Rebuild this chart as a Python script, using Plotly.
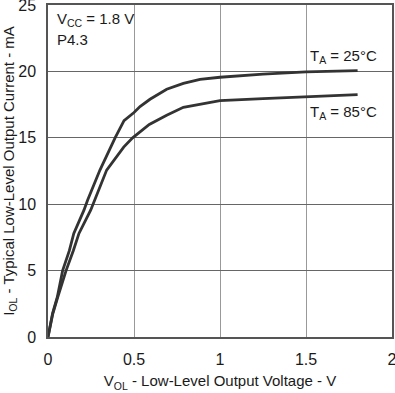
import plotly.graph_objects as go

v25 = [0, 0.027, 0.054, 0.085, 0.124, 0.15, 0.209, 0.23, 0.302, 0.39, 0.442, 0.5, 0.535, 0.593, 0.69, 0.787, 0.884, 1.0, 1.25, 1.5, 1.8]
i25 = [0, 1.8, 3.0, 5.0, 6.5, 7.8, 9.55, 10.3, 12.57, 15.0, 16.3, 16.9, 17.35, 17.9, 18.66, 19.1, 19.4, 19.56, 19.8, 19.96, 20.06]

v85 = [0, 0.027, 0.054, 0.105, 0.147, 0.18, 0.248, 0.27, 0.341, 0.44, 0.492, 0.589, 0.69, 0.787, 0.884, 1.0, 1.25, 1.5, 1.8]
i85 = [0, 1.7, 2.9, 5.0, 6.5, 7.8, 9.55, 10.3, 12.57, 14.3, 15.0, 16.0, 16.7, 17.3, 17.55, 17.8, 17.95, 18.1, 18.25]

x_ticks = [0, 0.5, 1, 1.5, 2]
x_tick_labels = ["0", "0.5", "1", "1.5", "2"]
y_ticks = [0, 5, 10, 15, 20, 25]
y_tick_labels = ["0", "5", "10", "15", "20", "25"]

line_color = "#333333"
family = "Liberation Sans, Arial, sans-serif"
font = dict(family=family, size=15, color="#1a1a1a")
tick_font = dict(family=family, size=16, color="#1a1a1a")

fig = go.Figure()
fig.add_trace(go.Scatter(x=v25, y=i25, mode="lines", line=dict(color=line_color, width=2.8), showlegend=False, cliponaxis=False))
fig.add_trace(go.Scatter(x=v85, y=i85, mode="lines", line=dict(color=line_color, width=2.8), showlegend=False, cliponaxis=False))

fig.add_annotation(x=0.04, y=23.9, xanchor="left", yanchor="middle", showarrow=False,
                   text="V<sub>CC</sub> = 1.8 V", font=font)
fig.add_annotation(x=0.04, y=22.4, xanchor="left", yanchor="middle", showarrow=False,
                   text="P4.3", font=font)
fig.add_annotation(x=1.72, y=21.1, xanchor="center", yanchor="middle", showarrow=False,
                   text="T<sub>A</sub> = 25°C", font=font)
fig.add_annotation(x=1.72, y=16.9, xanchor="center", yanchor="middle", showarrow=False,
                   text="T<sub>A</sub> = 85°C", font=font)

fig.update_layout(
    width=395, height=393,
    margin=dict(l=48, r=3, t=5, b=56, autoexpand=False),
    paper_bgcolor="white", plot_bgcolor="white",
    font=font,
)
fig.update_xaxes(range=[0, 2], tickvals=x_ticks, ticktext=x_tick_labels, tickfont=tick_font,
                 showgrid=True, gridcolor="#999999", gridwidth=1.2,
                 showline=True, mirror=True, linecolor="#555555", linewidth=1.5,
                 zeroline=False, ticks="", ticklabelstandoff=7, automargin=False,
                 ticklabeloverflow="allow",
                 title=dict(text="V<sub>OL</sub> - Low-Level Output Voltage - V", font=font, standoff=9))
fig.update_yaxes(range=[0, 25], tickvals=y_ticks, ticktext=y_tick_labels, tickfont=tick_font,
                 showgrid=True, gridcolor="#666666", gridwidth=1.2,
                 showline=True, mirror=True, linecolor="#555555", linewidth=1.5,
                 zeroline=False, ticks="", ticklabelstandoff=7, automargin=False,
                 ticklabeloverflow="allow",
                 title=dict(text="I<sub>OL</sub> - Typical Low-Level Output Current - mA", font=font, standoff=3))

fig.write_html("out.html", config={"displayModeBar": False},
               post_script="document.body.style.margin='0';document.body.style.overflow='hidden';")
